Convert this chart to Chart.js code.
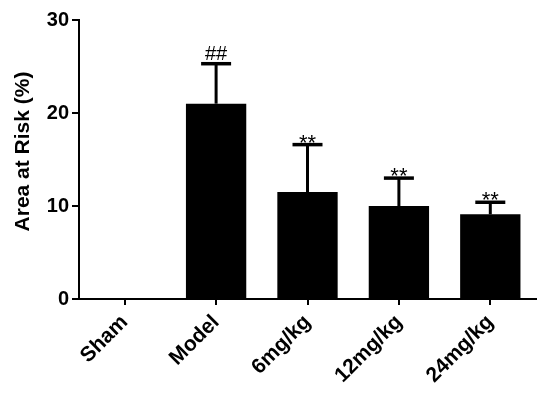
<!DOCTYPE html>
<html>
<head>
<meta charset="utf-8">
<script src="https://cdn.jsdelivr.net/npm/chart.js@4.4.1/dist/chart.umd.min.js"></script>
<style>
  html, body { margin: 0; padding: 0; background: #fff; }
  #wrap { width: 550px; height: 394px; position: relative; }
</style>
</head>
<body>
<div id="wrap"><canvas id="c"></canvas></div>
<script>
const categories = ["Sham", "Model", "6mg/kg", "12mg/kg", "24mg/kg"];
const meanValues = [0, 21.0, 11.5, 10.0, 9.1];
const errorTops = [0, 25.3, 16.6, 13.0, 10.4];
const markers = ["", "##", "**", "**", "**"];
const yTicks = [0, 10, 20, 30];
const yTitle = 'Area at Risk (%)';

const FONT = '"Liberation Sans", Arial, sans-serif';

const errorBarPlugin = {
  id: 'errorBars',
  afterDatasetsDraw(chart) {
    const ctx = chart.ctx;
    const meta = chart.getDatasetMeta(0);
    const y = chart.scales.y;
    ctx.save();
    ctx.strokeStyle = '#000';
    ctx.fillStyle = '#000';
    meta.data.forEach((bar, i) => {
      const top = errorTops[i];
      if (top > meanValues[i]) {
        const x = bar.x;
        const yBar = y.getPixelForValue(meanValues[i]);
        const yTop = y.getPixelForValue(top);
        ctx.lineWidth = 3;
        ctx.beginPath();
        ctx.moveTo(x, yBar);
        ctx.lineTo(x, yTop);
        ctx.stroke();
        ctx.lineWidth = 3.5;
        ctx.beginPath();
        ctx.moveTo(x - 15, yTop);
        ctx.lineTo(x + 15, yTop);
        ctx.stroke();
        if (markers[i]) {
          const star = markers[i] === '**';
          ctx.font = (star ? '22px ' : '20px ') + FONT;
          ctx.textAlign = 'center';
          ctx.textBaseline = 'alphabetic';
          ctx.fillText(markers[i], x, yTop - 4 + (star ? 9 : 0));
        }
      }
    });
    // y-axis title
    const area = chart.chartArea;
    ctx.translate(23, (area.top + area.bottom) / 2 - 8);
    ctx.rotate(-Math.PI / 2);
    ctx.font = 'bold 21px ' + FONT;
    ctx.textAlign = 'center';
    ctx.textBaseline = 'middle';
    ctx.fillText(yTitle, 0, 0);
    ctx.restore();
  }
};

new Chart(document.getElementById('c'), {
  type: 'bar',
  data: {
    labels: categories,
    datasets: [{
      data: meanValues,
      backgroundColor: '#000',
      borderColor: '#000',
      borderWidth: 0,
      categoryPercentage: 1.0,
      barPercentage: 0.66
    }]
  },
  options: {
    responsive: true,
    maintainAspectRatio: false,
    animation: false,
    devicePixelRatio: 1,
    layout: { padding: { top: 20, right: 14, left: 10, bottom: 0 } },
    plugins: { legend: { display: false }, tooltip: { enabled: false } },
    scales: {
      x: {
        afterFit(scale) { scale.height = 95; },
        border: { display: true, color: '#000', width: 2 },
        grid: { display: true, drawOnChartArea: false, drawTicks: true, tickLength: 6, color: '#000', lineWidth: 2, offset: false },
        ticks: {
          color: '#000',
          font: { family: FONT, size: 21, weight: 'bold' },
          maxRotation: 45, minRotation: 45, padding: 5
        }
      },
      y: {
        min: 0, max: 30,
        afterFit(scale) { scale.width = 69; },
        afterBuildTicks(scale) { scale.ticks = yTicks.map(v => ({ value: v })); },
        border: { display: true, color: '#000', width: 2 },
        grid: { display: true, drawOnChartArea: false, drawTicks: true, tickLength: 7, color: '#000', lineWidth: 2 },
        ticks: {
          color: '#000',
          font: { family: FONT, size: 20, weight: 'bold' },
          padding: 3
        },
        title: { display: false }
      }
    }
  },
  plugins: [errorBarPlugin]
});
</script>
</body>
</html>
